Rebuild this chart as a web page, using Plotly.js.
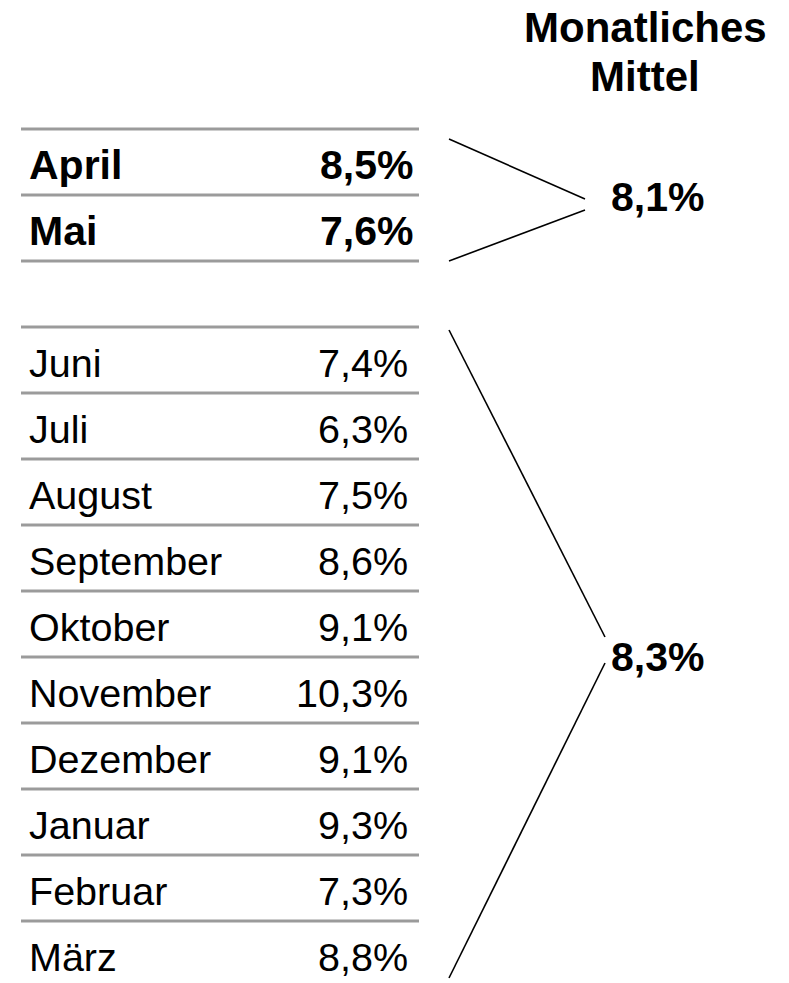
<!DOCTYPE html>
<html>
<head>
<meta charset="utf-8">
<script src="https://cdn.plot.ly/plotly-3.0.1.min.js"></script>
<style>html,body{margin:0;padding:0;background:#fff;}#chart{width:789px;height:983px;}</style>
</head>
<body>
<div id="chart"></div>
<script>
// ---- data ----
const months = ['April','Mai','Juni','Juli','August','September','Oktober','November','Dezember','Januar','Februar','März'];
const rates = [8.5, 7.6, 7.4, 6.3, 7.5, 8.6, 9.1, 10.3, 9.1, 9.3, 7.3, 8.8];
const groupSizes = [2, 10];
const groupBold = [true, false];
const groupMeans = [8.1, 8.3];
const headerLines = ['Monatliches', 'Mittel'];

// ---- layout helpers ----
const W = 789, H = 983;
const ROW_PX = 66, TOP_PX = 129;          // row grid (pixels)
const LINE_X0 = 21, LINE_X1 = 419;
const LABEL_X = 27;
const VALUE_X = {bold: 415, regular: 410};
const FONT = '"Liberation Sans", Arial, sans-serif';
const FS = 39.5, FS_BOLD = 41, FS_HEAD = 42;
const fmt = v => v.toFixed(1).replace('.', ',') + '%';
const rowOfPx = px => (px - TOP_PX) / ROW_PX;

const traces = [];
const annotations = [];

// assign each month a row index; one empty row between groups
let rowIdx = 0, mi = 0;
groupSizes.forEach((n, g) => {
  const start = rowIdx;
  // horizontal rules
  const lx = [], ly = [];
  for (let k = 0; k <= n; k++) { lx.push(LINE_X0, LINE_X1, null); ly.push(start + k, start + k, null); }
  traces.push({x: lx, y: ly, mode: 'lines', line: {color: '#9b9b9b', width: 3}, hoverinfo: 'skip', showlegend: false});
  for (let k = 0; k < n; k++, mi++) {
    const yc = start + k + 0.5 + 3 / ROW_PX;
    const bold = groupBold[g];
    const fs = bold ? FS_BOLD : FS;
    annotations.push({x: LABEL_X, y: yc, xref: 'x', yref: 'y', text: bold ? '<b>' + months[mi] + '</b>' : months[mi],
      showarrow: false, xanchor: 'left', yanchor: 'middle', font: {family: FONT, size: fs, color: '#000'}});
    annotations.push({x: bold ? VALUE_X.bold : VALUE_X.regular, y: yc, xref: 'x', yref: 'y',
      text: bold ? '<b>' + fmt(rates[mi]) + '</b>' : fmt(rates[mi]),
      showarrow: false, xanchor: 'right', yanchor: 'middle', font: {family: FONT, size: fs, color: '#000'}});
  }
  rowIdx += n + 1;
});

// brackets (pixel geometry of the connector lines)
const brackets = [
  {x0: 449, yTop: 139, tipX: 585, tipY1: 199, tipY2: 210, yBot: 261, labelX: 609, labelY: 197},
  {x0: 449, yTop: 330, tipX: 605, tipY1: 637, tipY2: 663, yBot: 978, labelX: 609, labelY: 657}
];
brackets.forEach((b, g) => {
  traces.push({x: [b.x0, b.tipX, null, b.tipX, b.x0],
    y: [rowOfPx(b.yTop), rowOfPx(b.tipY1), null, rowOfPx(b.tipY2), rowOfPx(b.yBot)],
    mode: 'lines', line: {color: '#000', width: 1.6}, hoverinfo: 'skip', showlegend: false});
  annotations.push({x: b.labelX, y: rowOfPx(b.labelY), xref: 'x', yref: 'y', text: '<b>' + fmt(groupMeans[g]) + '</b>',
    showarrow: false, xanchor: 'left', yanchor: 'middle', font: {family: FONT, size: FS_BOLD, color: '#000'}});
});

// header (two lines, tighter spacing than Plotly's default)
const headerY = [27, 76];
headerLines.forEach((t, i) => {
  annotations.push({x: 645, y: rowOfPx(headerY[i]), xref: 'x', yref: 'y', text: '<b>' + t + '</b>',
    showarrow: false, xanchor: 'center', yanchor: 'middle', align: 'center',
    font: {family: FONT, size: FS_HEAD, color: '#000'}});
});

const layout = {
  width: W, height: H,
  margin: {l: 0, r: 0, t: 0, b: 0, pad: 0},
  paper_bgcolor: '#fff', plot_bgcolor: '#fff',
  xaxis: {range: [0, W], visible: false, fixedrange: true},
  yaxis: {range: [rowOfPx(H), rowOfPx(0)], visible: false, fixedrange: true},
  annotations: annotations,
  showlegend: false
};
Plotly.newPlot('chart', traces, layout, {staticPlot: true, displayModeBar: false});
</script>
</body>
</html>
